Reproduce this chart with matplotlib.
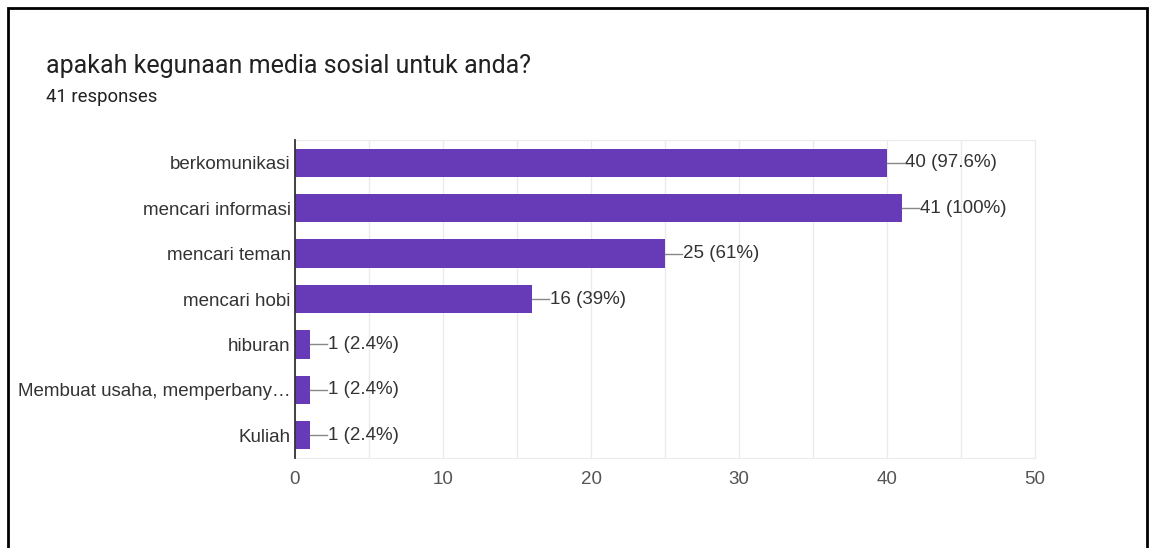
import matplotlib
matplotlib.use("Agg")
import matplotlib.pyplot as plt
from matplotlib.patches import Rectangle

categories = ["berkomunikasi", "mencari informasi", "mencari teman", "mencari hobi",
              "hiburan", "Membuat usaha, memperbany…", "Kuliah"]
counts = [40, 41, 25, 16, 1, 1, 1]
percents = ["97.6%", "100%", "61%", "39%", "2.4%", "2.4%", "2.4%"]
xticks = [0, 10, 20, 30, 40, 50]
title = "apakah kegunaan media sosial untuk anda?"
subtitle = "41 responses"

W, H = 1150, 548
fig = plt.figure(figsize=(W / 100, H / 100), dpi=100)
fig.patch.set_facecolor("white")

# outer border
fig.add_artist(Rectangle((8 / W, -0.01), (1147 - 8) / W, (H - 8) / H + 0.01,
                         transform=fig.transFigure, fill=False, edgecolor="black", lw=2))

ax = fig.add_axes([295 / W, 1 - 458 / H, (1035 - 295) / W, (458 - 140) / H])
n = len(categories)
ypos = list(range(n))
ax.barh(ypos, counts, height=0.62, color="#673ab7", zorder=3)
ax.set_ylim(n - 0.5, -0.5)
ax.set_xlim(0, 50)
ax.set_xticks(xticks)
ax.set_xticks([5, 15, 25, 35, 45], minor=True)
ax.grid(axis="x", which="both", color="#ebebeb", lw=1, zorder=0)
ax.set_yticks(ypos)
ax.set_yticklabels(categories)
ax.tick_params(axis="both", which="both", length=0, labelsize=13.5)
ax.tick_params(axis="y", pad=3, labelcolor="#333333")
ax.tick_params(axis="x", pad=9, labelcolor="#555555")
for lab in ax.get_xticklabels() + ax.get_yticklabels():
    lab.set_fontfamily("Liberation Sans")
for s in ["top", "right", "bottom"]:
    ax.spines[s].set_color("#ebebeb")
ax.spines["left"].set_color("#333333")
ax.spines["left"].set_linewidth(1.3)
ax.spines["left"].set_zorder(4)

px = 50 / 740.0
for i, (c, p) in enumerate(zip(counts, percents)):
    ax.plot([c, c + 17 * px], [i, i], color="#888888", lw=1, zorder=4)
    ax.text(c + 18 * px, i, f"{c} ({p})", va="center", ha="left", fontsize=13.5,
            color="#333333", fontfamily="Liberation Sans")

fig.text(46 / W, 1 - 66 / H, title, fontsize=18, color="#212121",
         fontfamily="Roboto", va="center", ha="left")
fig.text(46 / W, 1 - 97 / H, subtitle, fontsize=13.3, color="#212121",
         fontfamily="Roboto", va="center", ha="left")

fig.savefig("out.png", dpi=100, facecolor="white")
